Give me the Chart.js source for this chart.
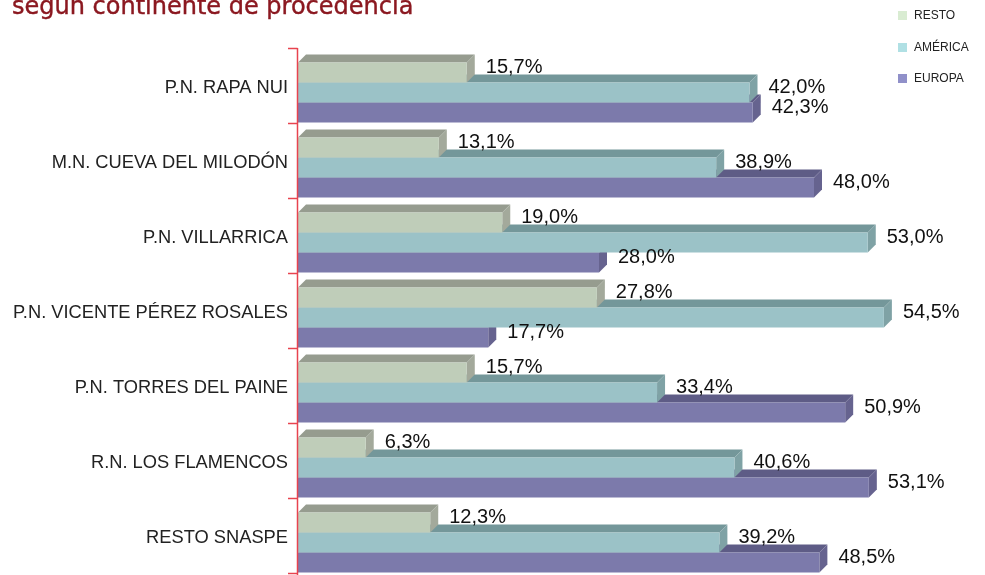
<!DOCTYPE html>
<html>
<head>
<meta charset="utf-8">
<script src="https://cdn.jsdelivr.net/npm/chart.js@4"></script>
<style>
    html, body { margin: 0; padding: 0; background: #ffffff; overflow: hidden; }
    #wrap { position: relative; width: 985px; height: 575px; overflow: hidden; }
    #titulo {
        position: absolute; left: 12px; top: -6px; margin: 0;
        font: 24px "DejaVu Sans", sans-serif; line-height: 24px;
        color: #8b1820; white-space: nowrap; -webkit-text-stroke: 0.4px #8b1820;
    }
    #legenda { position: absolute; left: 898px; top: 0; font: 12px "Liberation Sans", Arial, sans-serif; color: #222; }
    .item { position: absolute; left: 0; white-space: nowrap; line-height: 14px; }
    .item i { display: inline-block; width: 9px; height: 9px; margin-right: 7px; vertical-align: -1px; }
    canvas { position: absolute; left: 0; top: 0; }
</style>
</head>
<body>
<div id="wrap">
    <canvas id="barChart" width="985" height="593"></canvas>
    <div id="titulo">según continente de procedencia</div>
    <div id="legenda"></div>
</div>

<script>
const categorias = [
    "P.N. RAPA NUI",
    "M.N. CUEVA DEL MILODÓN",
    "P.N. VILLARRICA",
    "P.N. VICENTE PÉREZ ROSALES",
    "P.N. TORRES DEL PAINE",
    "R.N. LOS FLAMENCOS",
    "RESTO SNASPE"
];
const resto = [15.7, 13.1, 19.0, 27.8, 15.7, 6.3, 12.3];
const america = [42.0, 38.9, 53.0, 54.5, 33.4, 40.6, 39.2];
const europa = [42.3, 48.0, 28.0, 17.7, 50.9, 53.1, 48.5];

const series = [
    { nome: "RESTO", data: resto, frente: "#bfcdb9", topo: "#969c8f", lado: "#a3a99b", legenda: "#d9ecd2" },
    { nome: "AMÉRICA", data: america, frente: "#9bc2c7", topo: "#74979a", lado: "#7fa2a5", legenda: "#b0e0e4" },
    { nome: "EUROPA", data: europa, frente: "#7c7aab", topo: "#5e5c86", lado: "#66638f", legenda: "#9090c9" }
];

const prof = 8; // profundidade do efeito 3D

// legenda feita em html
const legenda = document.getElementById("legenda");
const posLegenda = [15, 47, 78];
for (let i = 0; i < series.length; i++) {
    legenda.insertAdjacentHTML("beforeend", `
        <div class="item" style="top:${posLegenda[i] - 7}px"><i style="background:${series[i].legenda}"></i>${series[i].nome}</div>
    `);
}

function formatar(v) {
    return v.toFixed(1).replace(".", ",") + "%";
}

// faces de cima e do lado, desenhadas antes das frentes
const barras3D = {
    id: "barras3D",
    beforeDatasetsDraw(chart) {
        const ctx = chart.ctx;
        ctx.save();
        for (let d = series.length - 1; d >= 0; d--) {
            const meta = chart.getDatasetMeta(d);
            meta.data.forEach(bar => {
                const { x, y, base, height } = bar.getProps(["x", "y", "base", "height"], true);
                const topoY = y - height / 2;
                const baixoY = y + height / 2;

                ctx.fillStyle = series[d].topo;
                ctx.beginPath();
                ctx.moveTo(base, topoY);
                ctx.lineTo(base + prof, topoY - prof);
                ctx.lineTo(x + prof, topoY - prof);
                ctx.lineTo(x, topoY);
                ctx.closePath();
                ctx.fill();

                ctx.fillStyle = series[d].lado;
                ctx.beginPath();
                ctx.moveTo(x, topoY);
                ctx.lineTo(x + prof, topoY - prof);
                ctx.lineTo(x + prof, baixoY - prof);
                ctx.lineTo(x, baixoY);
                ctx.closePath();
                ctx.fill();
            });
        }
        ctx.restore();
    },
    afterDatasetsDraw(chart) {
        const ctx = chart.ctx;
        const area = chart.chartArea;
        const escalaY = chart.scales.y;
        const passo = escalaY.height / categorias.length;

        ctx.save();
        // eixo vermelho
        ctx.strokeStyle = "#e8434f";
        ctx.lineWidth = 1.5;
        ctx.beginPath();
        ctx.moveTo(area.left - 0.5, area.top - 7);
        ctx.lineTo(area.left - 0.5, 600);
        for (let i = 0; i <= categorias.length; i++) {
            const yy = Math.round(escalaY.top + passo * i - 7) + 0.5;
            ctx.moveTo(area.left - 10, yy);
            ctx.lineTo(area.left - 0.5, yy);
        }
        ctx.stroke();

        // rótulos de valor
        ctx.font = '20px "Liberation Sans", Arial, sans-serif';
        ctx.fillStyle = "#111";
        ctx.textAlign = "left";
        ctx.textBaseline = "middle";
        for (let d = 0; d < series.length; d++) {
            const meta = chart.getDatasetMeta(d);
            meta.data.forEach((bar, i) => {
                const { x, y } = bar.getProps(["x", "y"], true);
                ctx.fillText(formatar(series[d].data[i]), x + 19, y - 5);
            });
        }
        ctx.restore();
    }
};

const ctx = document.getElementById("barChart");

const barChart = new Chart(ctx, {
    type: "bar",
    data: {
        labels: categorias,
        datasets: series.map(s => ({
            label: s.nome,
            data: s.data,
            backgroundColor: s.frente,
            borderWidth: 0,
            categoryPercentage: 0.8,
            barPercentage: 1
        }))
    },
    options: {
        indexAxis: "y",
        responsive: false,
        animation: false,
        layout: {
            padding: { top: 55, bottom: 3, left: 0, right: 42 }
        },
        scales: {
            x: {
                display: false,
                min: 0,
                max: 60
            },
            y: {
                grid: { display: false },
                border: { display: false },
                ticks: {
                    color: "#222",
                    padding: 2,
                    labelOffset: -5,
                    font: { family: '"Liberation Sans", Arial, sans-serif', size: 18.3 }
                },
                afterFit: escala => { escala.width = 298; }
            }
        },
        plugins: {
            legend: { display: false },
            tooltip: { enabled: false }
        }
    },
    plugins: [barras3D]
});
</script>
</body>
</html>
